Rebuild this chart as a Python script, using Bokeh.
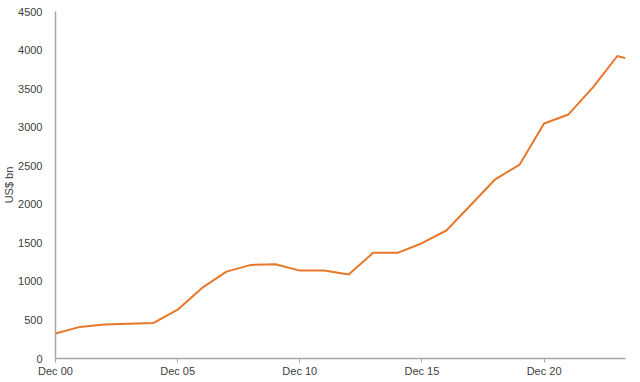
from bokeh.plotting import figure
from bokeh.models import FixedTicker, Range1d
from bokeh.embed import file_html
from bokeh.resources import INLINE

# Data: year-end observations (Dec 2000 .. Dec 2023) plus latest (Apr 2024)
dates = ["2000-12", "2001-12", "2002-12", "2003-12", "2004-12", "2005-12",
         "2006-12", "2007-12", "2008-12", "2009-12", "2010-12", "2011-12",
         "2012-12", "2013-12", "2014-12", "2015-12", "2016-12", "2017-12",
         "2018-12", "2019-12", "2020-12", "2021-12", "2022-12", "2023-12",
         "2024-04"]
values = [325, 410, 440, 450, 460, 633, 915, 1127, 1214, 1222, 1140, 1140,
          1088, 1370, 1370, 1495, 1660, 1990, 2324, 2515, 3048, 3165, 3516,
          3923, 3895]
tick_labels = ["Dec 00", "Dec 05", "Dec 10", "Dec 15", "Dec 20"]
tick_years = [2000, 2005, 2010, 2015, 2020]
y_ticks = [0, 500, 1000, 1500, 2000, 2500, 3000, 3500, 4000, 4500]


def to_x(d):
    y, m = d.split("-")
    return (int(y) - 2000) + (int(m) - 12) / 12.0


xs = [to_x(d) for d in dates]
tick_pos = [float(t - 2000) for t in tick_years]

p = figure(width=640, height=382, output_backend="svg", toolbar_location=None,
           x_range=Range1d(0, xs[-1]), y_range=Range1d(0, 4500),
           min_border_left=0, min_border_right=15, min_border_top=11,
           min_border_bottom=24)
p.outline_line_color = None
p.grid.grid_line_color = None
p.background_fill_color = "white"
p.border_fill_color = "white"

p.line(xs, values, line_color="#E8772A", line_width=2)

axis_color = "#A6A6A6"
label_color = "#404040"
font = "Liberation Sans"

xa = p.xaxis[0]
xa.ticker = FixedTicker(ticks=tick_pos)
xa.major_label_overrides = {tp: lbl for tp, lbl in zip(tick_pos, tick_labels)}
xa.axis_line_color = axis_color
xa.axis_line_width = 1.5
xa.major_tick_line_color = axis_color
xa.major_tick_out = 4
xa.major_tick_in = 0
xa.minor_tick_line_color = None
xa.major_label_text_font = font
xa.major_label_text_font_size = "11px"
xa.major_label_text_color = label_color
xa.major_label_standoff = 2

ya = p.yaxis[0]
ya.ticker = FixedTicker(ticks=y_ticks)
ya.axis_line_color = axis_color
ya.axis_line_width = 1.5
ya.major_tick_line_color = None
ya.minor_tick_line_color = None
ya.major_label_text_font = font
ya.major_label_text_font_size = "11px"
ya.major_label_text_color = label_color
ya.major_label_standoff = 7
ya.axis_label = "US$ bn"
ya.axis_label_text_font = font
ya.axis_label_text_font_size = "11px"
ya.axis_label_text_font_style = "normal"
ya.axis_label_text_color = label_color
ya.axis_label_standoff = 0

open("out.html", "w").write(file_html(p, INLINE))
